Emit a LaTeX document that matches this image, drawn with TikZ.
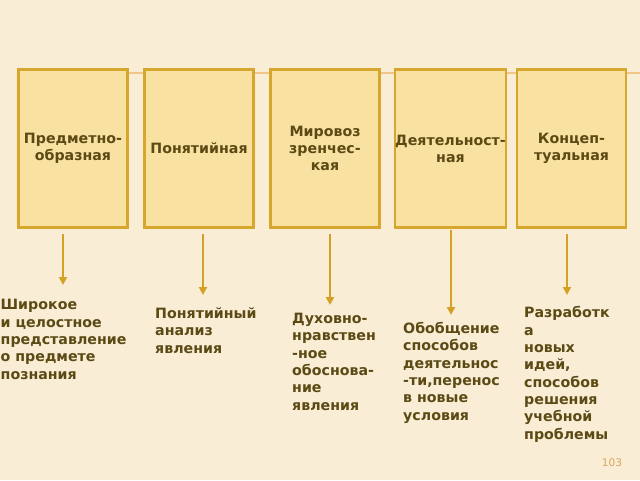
\documentclass[tikz,border=0pt]{standalone}
\usepackage{fontspec}
\setmainfont{DejaVu Sans}
\usetikzlibrary{arrows.meta}
\definecolor{bgcol}{HTML}{F9EDD6}
\definecolor{boxfill}{HTML}{F8E1A1}
\definecolor{boxline}{HTML}{D6A72C}
\definecolor{txtcol}{HTML}{5C4A14}
\definecolor{linkcol}{HTML}{F0C588}
\definecolor{arrcol}{HTML}{D4A125}
\definecolor{numcol}{HTML}{D8A45C}
\tikzset{
  kind/.style={draw=boxline, fill=boxfill, line width=2.6pt, minimum width=109pt, minimum height=158pt,
    inner sep=0pt, align=center, text=txtcol, font=\bfseries\fontsize{14.2}{17}\selectfont},
  desc/.style={anchor=base west, inner sep=0pt, align=left, text=txtcol, font=\bfseries\fontsize{14.2}{17.3}\selectfont},
  arr/.style={draw=arrcol, line width=2pt, -{Triangle[width=8pt,length=8pt]}},
  link/.style={draw=linkcol, line width=1.5pt}
}
\begin{document}
\begin{tikzpicture}[x=1pt,y=-1pt]
\useasboundingbox (0,0) rectangle (640,480);
\fill[bgcol] (0,0) rectangle (640,480);
\coordinate (lend) at (640,73);
\draw[link] (73,73) -- (lend);
\node[kind] (b1) at (73,148.5) {Предметно-\\образная};
\node[kind] (b2) at (199,148.5) {Понятийная};
\node[kind] (b3) at (325,148.5) {Мировоз\\зренчес-\\кая};
\node[kind] (b4) at (450.5,148.5) {Деятельност-\\ная};
\node[kind] (b5) at (571.5,148.5) {Концеп-\\туальная};
% anchors at the baseline of the last line
\node[desc] (t1) at (0.5,379) {Широкое\\и целостное\\представление\\о предмете\\познания};
\node[desc] (t2) at (155,353) {Понятийный\\анализ\\явления};
\node[desc] (t3) at (292,410) {Духовно-\\нравствен\\-ное\\обоснова-\\ние\\явления};
\node[desc] (t4) at (403,420) {Обобщение\\способов\\деятельнос\\-ти,перенос\\в новые\\условия};
\node[desc] (t5) at (524,439) {Разработк\\а\\новых\\идей,\\способов\\решения\\учебной\\проблемы};
\coordinate (s1) at (63,234); \coordinate (e1) at (63,285);
\coordinate (s2) at (203,234); \coordinate (e2) at (203,295);
\coordinate (s3) at (330,234); \coordinate (e3) at (330,305);
\coordinate (s4) at (451,230); \coordinate (e4) at (451,315);
\coordinate (s5) at (567,234); \coordinate (e5) at (567,295);
\draw[arr] (s1) -- (e1);
\draw[arr] (s2) -- (e2);
\draw[arr] (s3) -- (e3);
\draw[arr] (s4) -- (e4);
\draw[arr] (s5) -- (e5);
\node[text=numcol, font=\fontsize{10.5}{12}\selectfont, inner sep=0pt] (pn) at (612,463) {103};
\end{tikzpicture}
\end{document}
